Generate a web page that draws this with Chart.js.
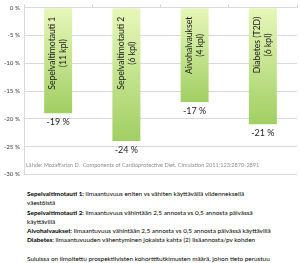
<!DOCTYPE html>
<html lang="fi">
<head>
<meta charset="UTF-8">
<title>Kasvikset ja hedelmät</title>
<script src="https://cdn.jsdelivr.net/npm/chart.js"></script>
<style>
  html, body { margin: 0; padding: 0; background: #fff; }
  body { width: 300px; height: 263px; position: relative; overflow: hidden; font-family: Lato, "Liberation Sans", sans-serif; }
  #chart { position: absolute; left: 0; top: 0; }
  .notes { position: absolute; left: 27px; top: 189px; font-size: 6.4px; line-height: 9.3px; color: #000; white-space: nowrap; }
</style>
</head>
<body>
<canvas id="chart" width="300" height="182"></canvas>
<div class="notes">
  <b>Sepelvaltimotauti 1:</b> ilmaantuvuus eniten vs vähiten käyttävällä viidenneksellä<br>
  väestöistä<br>
  <b>Sepelvaltimotauti 2</b>: ilmaantuvuus vähintään 2,5 annosta vs 0,5 annosta päivässä<br>
  käyttävillä<br>
  <b>Aivohalvaukset</b>: ilmaantuvuus vähintään 2,5 annosta vs 0,5 annosta päivässä käyttävillä<br>
  <b>Diabetes:</b> ilmaantuvuuden vähentyminen jokaista kahta (2) lisäannosta/pv kohden<br>
  <br>
  Suluissa on ilmoitettu prospektiivisten kohorttitutkimusten määrä, johon tieto perustuu
</div>
<script>
const categories = [
  ['Sepelvaltimotauti 1', '(11 kpl)'],
  ['Sepelvaltimotauti 2', '(6 kpl)'],
  ['Aivohalvaukset', '(4 kpl)'],
  ['Diabetes (T2D)', '(6 kpl)']
];
const values = [-19, -24, -17, -21];
const yMin = -30, yMax = 0, yStep = 5;
const sourceText = 'Lähde: Mozaffarian D.  Components of Cardioprotective Diet. Circulation 2011;123:2870-2891';

const FONT = 'Lato, "Liberation Sans", sans-serif';

// light green at the top of each bar, darker green at its end
function barGradient(ctx) {
  const chart = ctx.chart;
  const y = chart.scales.y;
  if (!y || ctx.dataIndex === undefined) return '#c4e28f';
  const top = y.getPixelForValue(0);
  const bottom = y.getPixelForValue(values[ctx.dataIndex]);
  if (!isFinite(top) || !isFinite(bottom) || bottom <= top) return '#c4e28f';
  const g = chart.ctx.createLinearGradient(0, top, 0, bottom);
  g.addColorStop(0, '#e7f7ba');
  g.addColorStop(1, '#a1cf63');
  return g;
}

const labelsPlugin = {
  id: 'labelsPlugin',
  afterDatasetsDraw(chart) {
    const ctx = chart.ctx;
    const meta = chart.getDatasetMeta(0);
    const y = chart.scales.y;
    ctx.save();
    meta.data.forEach((bar, i) => {
      // rotated category text inside the bar
      const lines = categories[i];
      ctx.font = '8.6px ' + FONT;
      ctx.fillStyle = '#1a1a1a';
      const longest = Math.max(...lines.map(l => ctx.measureText(l).width));
      const blockTop = y.getPixelForValue(0) + 9;
      const cy = blockTop + longest / 2;
      ctx.save();
      ctx.translate(bar.x, cy);
      ctx.rotate(-Math.PI / 2);
      ctx.textAlign = 'center';
      ctx.textBaseline = 'middle';
      const gap = 11;
      lines.forEach((l, k) => {
        ctx.fillText(l, 0, (k - (lines.length - 1) / 2) * gap);
      });
      ctx.restore();

      // value under the bar
      ctx.font = '9px ' + FONT;
      ctx.fillStyle = '#222';
      ctx.textAlign = 'center';
      ctx.textBaseline = 'middle';
      ctx.fillText(values[i] + ' %', bar.x, bar.y + 9);
    });

    // source line inside the plot
    ctx.font = '5.6px ' + FONT;
    ctx.fillStyle = '#8c8c8c';
    ctx.textAlign = 'left';
    ctx.textBaseline = 'middle';
    ctx.fillText(sourceText, chart.chartArea.left + 2, y.getPixelForValue(-28.3));
    ctx.restore();
  }
};

new Chart(document.getElementById('chart'), {
  type: 'bar',
  data: {
    labels: categories.map(c => c.join(' ')),
    datasets: [{
      data: values,
      backgroundColor: barGradient,
      borderWidth: 0,
      categoryPercentage: 1,
      barPercentage: 0.41
    }]
  },
  options: {
    responsive: false,
    devicePixelRatio: 1,
    animation: false,
    layout: { padding: { left: 0, right: 3, top: 0, bottom: 5 } },
    plugins: { legend: { display: false }, tooltip: { enabled: false } },
    scales: {
      x: {
        position: 'top',
        offset: true,
        ticks: { display: false },
        grid: { drawOnChartArea: false, tickLength: 3, color: '#d0d0d0', offset: true },
        border: { color: '#d9d9d9' },
        afterFit(scale) { scale.height = 5; }
      },
      y: {
        min: yMin,
        max: yMax,
        ticks: {
          stepSize: yStep,
          color: '#404040',
          padding: 4,
          font: { size: 6.2, family: FONT },
          callback: v => v + ' %'
        },
        grid: { color: '#d9d9d9', drawTicks: false },
        border: { display: true, color: '#d9d9d9' },
        afterFit(scale) { scale.width = 24; }
      }
    }
  },
  plugins: [labelsPlugin]
});
</script>
</body>
</html>
